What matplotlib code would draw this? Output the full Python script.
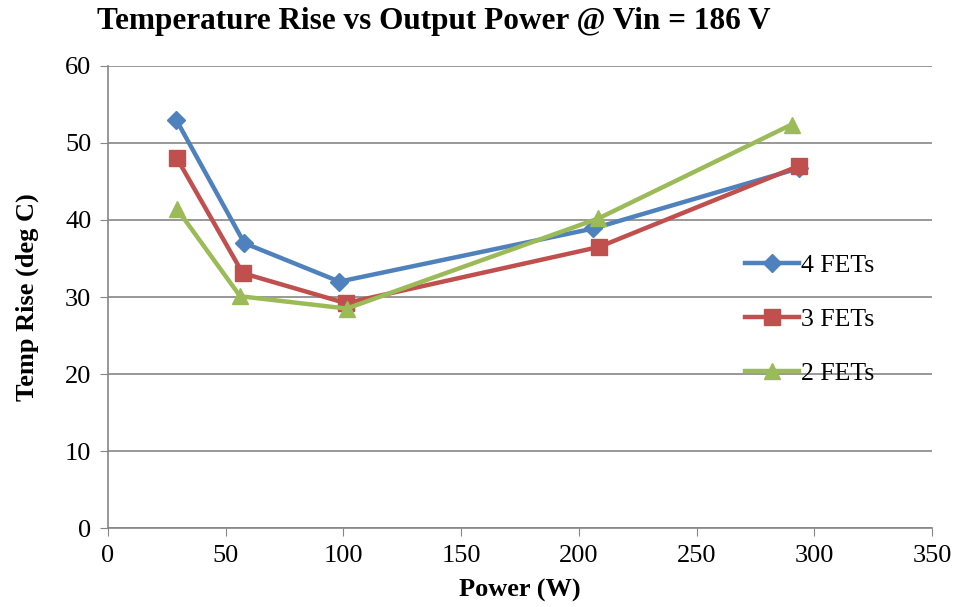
import numpy as np
from matplotlib import pyplot as plt

plt.rcParams['font.family'] = ['Liberation Serif', 'DejaVu Serif']

# data
power_4 = [29.0, 57.9, 98.3, 206.2, 293.3]
temp_4 = [53.0, 37.0, 32.0, 38.9, 46.7]
power_3 = [29.1, 57.2, 101.0, 208.6, 293.3]
temp_3 = [48.1, 33.1, 29.2, 36.5, 47.0]
power_2 = [29.4, 56.1, 101.4, 208.3, 290.4]
temp_2 = [41.4, 30.1, 28.5, 40.2, 52.4]

fig = plt.figure(figsize=(9.55, 6.07), dpi=100)
ax = fig.add_axes([0.1131, 0.1301, 0.8628, 0.7612])

ax.plot(power_4, temp_4, color='#4F81BD', lw=3.2, marker='D', ms=9, label='4 FETs')
ax.plot(power_3, temp_3, color='#C0504D', lw=3.2, marker='s', ms=11, label='3 FETs')
ax.plot(power_2, temp_2, color='#9BBB59', lw=3.2, marker='^', ms=12, label='2 FETs')

ax.set_xlim(0, 350)
ax.set_ylim(0, 60)
ax.set_xticks(np.arange(0, 351, 50))
ax.set_yticks(np.arange(0, 61, 10))
ax.yaxis.grid(True, color='#868686', lw=1.2)
ax.set_axisbelow(True)
for s in ['top', 'right']:
    ax.spines[s].set_visible(False)
for s in ['left', 'bottom']:
    ax.spines[s].set_color('#868686')
    ax.spines[s].set_linewidth(1.2)
ax.tick_params(axis='both', direction='out', length=6, color='#868686', labelsize=19, pad=6)

ax.set_xlabel('Power (W)', fontsize=19, fontweight='bold', labelpad=9)
ax.set_ylabel('Temp Rise (deg C)', fontsize=19, fontweight='bold', labelpad=19)
fig.text(434 / 955, 1 - 21 / 607, 'Temperature Rise vs Output Power @ Vin = 186 V',
         ha='center', va='center', fontsize=22.5, fontweight='bold')

ax.legend(loc='upper left', bbox_to_anchor=(0.757, 0.62), frameon=False, fontsize=18.5,
          handlelength=2.1, handletextpad=0.1, labelspacing=1.2, borderpad=0)

fig.savefig('out.png', dpi=100)
